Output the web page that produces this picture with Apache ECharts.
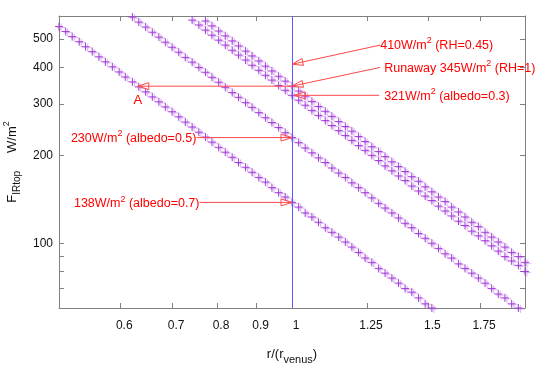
<!DOCTYPE html>
<html><head><meta charset="utf-8">
<script src="https://cdn.jsdelivr.net/npm/echarts@6/dist/echarts.min.js"></script>
<style>html,body{margin:0;padding:0;background:#fff}#c{width:545px;height:382px}</style>
</head><body><div id="c"></div>
<script>
// r / r_venus sample positions
const rVals = [0.500,0.510,0.520,0.531,0.541,0.552,0.563,0.574,0.586,0.598,0.609,0.622,0.634,0.647,0.660,0.673,0.686,0.700,0.714,0.728,0.743,0.758,0.773,0.788,0.804,0.820,0.837,0.853,0.871,0.888,0.906,0.924,0.942,0.961,0.980,1.000,1.020,1.040,1.061,1.082,1.104,1.126,1.149,1.172,1.195,1.219,1.243,1.268,1.294,1.319,1.346,1.373,1.400,1.428,1.457,1.486,1.516,1.546,1.577,1.608,1.641,1.673,1.707,1.741,1.776,1.811,1.847,1.884,1.922,1.961,2.000];
// F_IRtop (W/m^2) for each curve, aligned with rVals (null = not drawn)
const flux138 = [552,531,510,490,471,453,435,418,402,386,371,357,343,330,317,305,293,282,271,260,250,240,231,222,213,205,197,189,182,175,168,162,155,149,144,138,133,127,123,118,113,109,105,101,97,93,89,86,82,79,76,73,70,68,65,62,60,58,null,null,null,null,null,null,null,null,null,null,null,null,null];
const flux230 = [null,null,null,null,null,null,null,null,null,null,619,595,572,550,528,508,488,469,451,433,417,400,385,370,356,342,328,316,303,292,280,269,259,249,239,230,221,212,204,196,189,181,174,168,161,155,149,143,137,132,127,122,117,113,108,104,100,96,92,89,85,82,79,76,73,70,67,65,62,60,null];
const flux321 = [null,null,null,null,null,null,null,null,null,null,null,null,null,null,null,null,null,null,null,605,581,559,537,516,496,477,458,441,424,407,391,376,362,347,334,321,309,297,285,274,263,253,243,234,225,216,208,200,192,184,177,170,164,157,151,145,140,134,129,124,119,115,110,106,102,98,94,90,87,84,80];
const flux345 = [null,null,null,null,null,null,null,null,null,null,null,null,null,null,null,null,null,null,null,null,null,601,577,555,533,513,493,474,455,438,421,404,389,373,359,345,332,319,306,294,283,272,261,251,242,232,223,214,206,198,190,183,176,169,163,156,150,144,139,133,128,123,118,114,109,105,101,97,93,90,86];
const curveSets = [flux138, flux230, flux321, flux345];

const xTickValues = [0.6, 0.7, 0.8, 0.9, 1, 1.25, 1.5, 1.75];
const yTickValues = [100, 200, 300, 400, 500];
const yMinorTickValues = [70, 80, 90];
const venusR = 1;

// annotations: [tail r, tail F] -> [tip r, tip F]
const annotations = [
  { text: ['410W/m', '2', ' (RH=0.45)'], tail: [1.30, 477], tip: [1, 410], side: 'right', off: [0, 0] },
  { text: ['Runaway 345W/m', '2', ' (RH=1)'], tail: [1.30, 400], tip: [1, 345], side: 'right', off: [4, 1] },
  { text: ['321W/m', '2', ' (albedo=0.3)'], tail: [1.296, 321], tip: [1.006, 321], side: 'right', off: [5, 1] },
  { text: ['230W/m', '2', ' (albedo=0.5)'], tail: [0.7526, 230], tip: [1, 230], side: 'left', off: [0, 0.5] },
  { text: ['138W/m', '2', ' (albedo=0.7)'], tail: [0.7594, 138], tip: [1, 138], side: 'left', off: [0, 1.5] },
  { text: null, tail: [1, 345], tip: [0.632, 345] }
];
const pointA = { text: 'A', at: [0.632, 345], off: [0, 14] };

const FONT = '"Liberation Sans", Arial, sans-serif';
const AXIS_GREY = '#808080';
const MARK = '#a037d6';
const RED = '#ff0000';
const ARROW = '#ff4848';

const chart = echarts.init(document.getElementById('c'), null, { renderer: 'canvas' });
const fmt = v => String(parseFloat(Number(v).toFixed(3)));

const commonAxisLine = { show: true, lineStyle: { color: AXIS_GREY, width: 1 } };
const plus = 'path://M0,5L10,5M5,0L5,10';

const series = curveSets.map((arr, i) => ({
  type: 'scatter',
  name: 'c' + i,
  symbol: plus,
  symbolSize: 8,
  itemStyle: { color: 'rgba(0,0,0,0)', borderColor: MARK, borderWidth: 1, opacity: 0.95,
    shadowColor: 'rgba(195,130,235,0.75)', shadowBlur: 1, shadowOffsetX: 2, shadowOffsetY: 1 },
  data: rVals.map((r, k) => arr[k] == null ? null : [r, arr[k]]).filter(d => d),
  clip: true,
  silent: true,
  markLine: i === 0 ? {
    silent: true, symbol: ['none', 'none'], label: { show: false },
    lineStyle: { color: '#5a5aff', width: 1, type: 'solid', shadowBlur: 0, shadowColor: 'transparent' },
    data: [{ xAxis: venusR }]
  } : undefined
}));

chart.setOption({
  animation: false,
  backgroundColor: '#fff',
  grid: { left: 59, right: 20, top: 16, bottom: 74, containLabel: false, outerBoundsMode: 'none' },
  xAxis: [{
    type: 'log', min: 0.5, max: 2, position: 'bottom',
    axisLine: commonAxisLine,
    splitLine: { show: false }, minorTick: { show: false },
    axisTick: { show: true, inside: true, length: 5, customValues: xTickValues, lineStyle: { color: AXIS_GREY } },
    axisLabel: { show: true, customValues: xTickValues, formatter: fmt, margin: 12, padding: [0, 0, 0, 8], color: '#111', fontFamily: FONT, fontSize: 12 },
    name: '{n|r/(r}{s|venus}{n|)}', nameLocation: 'middle', nameGap: 35,
    nameTextStyle: { rich: {
      n: { fontFamily: FONT, fontSize: 13, color: '#111', lineHeight: 22, verticalAlign: 'middle' },
      s: { fontFamily: FONT, fontSize: 11, color: '#111', lineHeight: 11, verticalAlign: 'bottom' }
    } }
  }, {
    type: 'log', min: 0.5, max: 2, position: 'top',
    axisLine: commonAxisLine, splitLine: { show: false },
    axisTick: { show: true, inside: true, length: 5, customValues: xTickValues, lineStyle: { color: AXIS_GREY } },
    axisLabel: { show: false }
  }],
  yAxis: [{
    type: 'log', min: 60, max: 600, position: 'left',
    axisLine: commonAxisLine,
    splitLine: { show: false }, minorTick: { show: false },
    axisTick: { show: true, inside: true, length: 5, customValues: yMinorTickValues.concat(yTickValues), lineStyle: { color: AXIS_GREY } },
    axisLabel: { show: true, customValues: yTickValues, formatter: fmt, margin: 6, color: '#111', fontFamily: FONT, fontSize: 12 },
    name: '{f|F}{s|IRtop}{g|     W/m}{p|2}', nameLocation: 'middle', nameGap: 37, nameRotate: 90,
    nameTextStyle: { rich: {
      f: { fontFamily: FONT, fontSize: 13, color: '#111', lineHeight: 20, verticalAlign: 'middle' },
      g: { fontFamily: FONT, fontSize: 13, color: '#111', lineHeight: 20, verticalAlign: 'middle' },
      s: { fontFamily: FONT, fontSize: 10, color: '#111', lineHeight: 10, verticalAlign: 'bottom' },
      p: { fontFamily: FONT, fontSize: 9, color: '#111', lineHeight: 10, verticalAlign: 'top' }
    } }
  }, {
    type: 'log', min: 60, max: 600, position: 'right',
    axisLine: commonAxisLine, splitLine: { show: false },
    axisTick: { show: true, inside: true, length: 5, customValues: yMinorTickValues.concat(yTickValues), lineStyle: { color: AXIS_GREY } },
    axisLabel: { show: false }
  }],
  series: series
});

// annotations drawn through the chart's own coordinate conversion
function px(p) { return chart.convertToPixel({ gridIndex: 0 }, p); }
const richText = {
  t: { fontFamily: FONT, fontSize: 12.5, fill: RED, lineHeight: 18, verticalAlign: 'middle' },
  s: { fontFamily: FONT, fontSize: 9, fill: RED, lineHeight: 11, verticalAlign: 'top' }
};
const graphics = [];
annotations.forEach(a => {
  const t = px(a.tail), h = px(a.tip);
  graphics.push({ type: 'line', z: 100, silent: true, shape: { x1: t[0], y1: t[1], x2: h[0], y2: h[1] }, style: { stroke: ARROW, lineWidth: 1 } });
  const dx = h[0] - t[0], dy = h[1] - t[1], len = Math.hypot(dx, dy);
  const ux = dx / len, uy = dy / len, nx = -uy, ny = ux;
  const L = 11, W = 3.5;
  graphics.push({ type: 'polygon', z: 100, silent: true, shape: { points: [
    [h[0], h[1]], [h[0] - L * ux + W * nx, h[1] - L * uy + W * ny], [h[0] - L * ux - W * nx, h[1] - L * uy - W * ny]
  ] }, style: { stroke: ARROW, fill: 'rgba(255,255,255,0)', lineWidth: 1 } });
  if (a.text) {
    graphics.push({ type: 'text', z: 101, silent: true, x: t[0] + a.off[0], y: t[1] + a.off[1], style: {
      text: '{t|' + a.text[0] + '}{s|' + a.text[1] + '}{t|' + a.text[2] + '}',
      rich: richText, align: a.side === 'right' ? 'left' : 'right', verticalAlign: 'middle'
    } });
  }
});
const pa = px(pointA.at);
graphics.push({ type: 'text', z: 101, silent: true, x: pa[0] + pointA.off[0], y: pa[1] + pointA.off[1], style: {
  text: pointA.text, fill: RED, font: '13px ' + FONT, align: 'center', verticalAlign: 'middle'
} });
chart.setOption({ graphic: graphics });
</script></body></html>
